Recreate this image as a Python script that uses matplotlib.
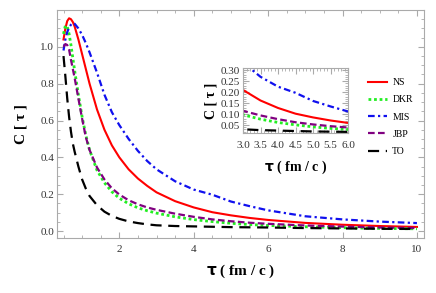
import matplotlib
matplotlib.use("Agg")
import matplotlib.pyplot as plt
from matplotlib.ticker import MultipleLocator, FormatStrFormatter

# tau grid (fm/c) and read-off correlator values
tau = [0.5, 0.55, 0.6, 0.65, 0.7, 0.75, 0.8, 0.9, 1.0, 1.1, 1.2, 1.4, 1.6, 1.8,
       2.0, 2.25, 2.5, 2.75, 3.0, 3.5, 4.0, 4.5, 5.0, 5.5, 6.0, 7.0, 8.0, 9.0, 10.0]

ns = [1.04, 1.10, 1.14, 1.155, 1.15, 1.135, 1.11, 1.04, 0.96, 0.88, 0.80, 0.66, 0.55, 0.465,
      0.40, 0.335, 0.285, 0.245, 0.21, 0.162, 0.128, 0.102, 0.085, 0.071, 0.06, 0.044, 0.034, 0.027, 0.022]
dkr = [1.07, 1.115, 1.11, 1.07, 1.01, 0.94, 0.87, 0.74, 0.62, 0.52, 0.44, 0.33, 0.262, 0.213,
       0.178, 0.148, 0.126, 0.11, 0.097, 0.077, 0.062, 0.051, 0.042, 0.035, 0.030, 0.023, 0.018, 0.014, 0.012]
mis = [0.98, 1.04, 1.08, 1.105, 1.12, 1.13, 1.125, 1.10, 1.065, 1.02, 0.97, 0.86, 0.74, 0.645,
       0.575, 0.50, 0.435, 0.38, 0.335, 0.27, 0.225, 0.197, 0.16, 0.135, 0.112, 0.08, 0.063, 0.051, 0.043]
jbp = [1.00, 1.015, 1.01, 0.985, 0.93, 0.88, 0.83, 0.72, 0.61, 0.51, 0.44, 0.345, 0.28, 0.232,
       0.198, 0.167, 0.145, 0.128, 0.115, 0.094, 0.077, 0.063, 0.053, 0.045, 0.039, 0.030, 0.024, 0.019, 0.016]
to = [0.95, 0.84, 0.72, 0.62, 0.54, 0.475, 0.43, 0.35, 0.28, 0.23, 0.19, 0.14, 0.105, 0.082,
      0.066, 0.052, 0.043, 0.036, 0.031, 0.027, 0.025, 0.023, 0.021, 0.020, 0.019, 0.016, 0.014, 0.012, 0.011]

plt.rcParams["font.family"] = ["Liberation Serif", "DejaVu Serif"]

series = [
    (ns, "NS", dict(color="#ff0000", lw=1.5, ls="-")),
    (dkr, "DKR", dict(color="#22ee22", lw=2.0, ls=(0, (1, 1)))),
    (mis, "MIS", dict(color="#1010ee", lw=1.6, ls=(0, (3, 1.5, 1, 1.5)))),
    (jbp, "JBP", dict(color="#800080", lw=1.6, ls=(0, (3, 1.5)))),
    (to, "TO", dict(color="black", lw=1.6, ls=(0, (5, 3)))),
]

FRAME = "#aaaaaa"
XLABEL = r"$\mathbf{\tau}$" + " ( fm / c )"
YLABEL = "C [ τ ]"


def style_axes(ax, xmaj, xmin, ymaj, ymin, fs):
    for s in ax.spines.values():
        s.set_color(FRAME)
    ax.xaxis.set_major_locator(MultipleLocator(xmaj))
    ax.xaxis.set_minor_locator(MultipleLocator(xmin))
    ax.yaxis.set_major_locator(MultipleLocator(ymaj))
    ax.yaxis.set_minor_locator(MultipleLocator(ymin))
    ax.tick_params(which="both", direction="in", top=True, right=True,
                   color=FRAME, labelsize=fs, labelcolor="#333333", pad=2)
    ax.tick_params(which="major", length=4)
    ax.tick_params(which="minor", length=2)


fig = plt.figure(figsize=(4.36, 2.93), dpi=100)
ax = fig.add_axes([57 / 436, 1 - 238 / 293, 367 / 436, 228 / 293])

for ys, name, kw in series:
    ax.plot(tau, ys, label=name, **kw)

ax.set_xlim(0.325, 10.19)
ax.set_ylim(-0.038, 1.20)
style_axes(ax, 2, 0.5, 0.2, 0.05, 8)
ax.tick_params(axis="x", pad=5)
ax.set_yticks([0.0, 0.2, 0.4, 0.6, 0.8, 1.0])
ax.yaxis.set_major_formatter(FormatStrFormatter("%.1f"))
ax.set_xticks([2, 4, 6, 8, 10])
ax.set_xlabel(XLABEL, fontsize=11, fontweight="bold", labelpad=6)
ax.set_ylabel(YLABEL, fontsize=11, fontweight="bold", labelpad=9)

ax.legend(loc="upper left", bbox_to_anchor=(368 / 436, 1 - 78 / 293),
          bbox_transform=fig.transFigure, frameon=False, fontsize=7,
          handlelength=2.0, handletextpad=0.5, labelspacing=0.85,
          borderpad=0, borderaxespad=0)

# inset
ins = fig.add_axes([243 / 436, 1 - 133 / 293, 105 / 436, 65 / 293])
for ys, name, kw in series:
    ins.plot(tau, ys, **kw)
ins.set_xlim(3.0, 6.0)
ins.set_ylim(0.014, 0.31)
style_axes(ins, 0.5, 0.1, 0.05, 0.01, 8)
ins.tick_params(axis="x", pad=6)
ins.tick_params(axis="y", pad=2.5)
ins.xaxis.set_major_formatter(FormatStrFormatter("%.1f"))
ins.yaxis.set_major_formatter(FormatStrFormatter("%.2f"))
ins.set_xlabel(XLABEL, fontsize=10, fontweight="bold", labelpad=6)
ins.set_ylabel(YLABEL, fontsize=10, fontweight="bold", labelpad=2)

fig.savefig("out.png", dpi=100)
